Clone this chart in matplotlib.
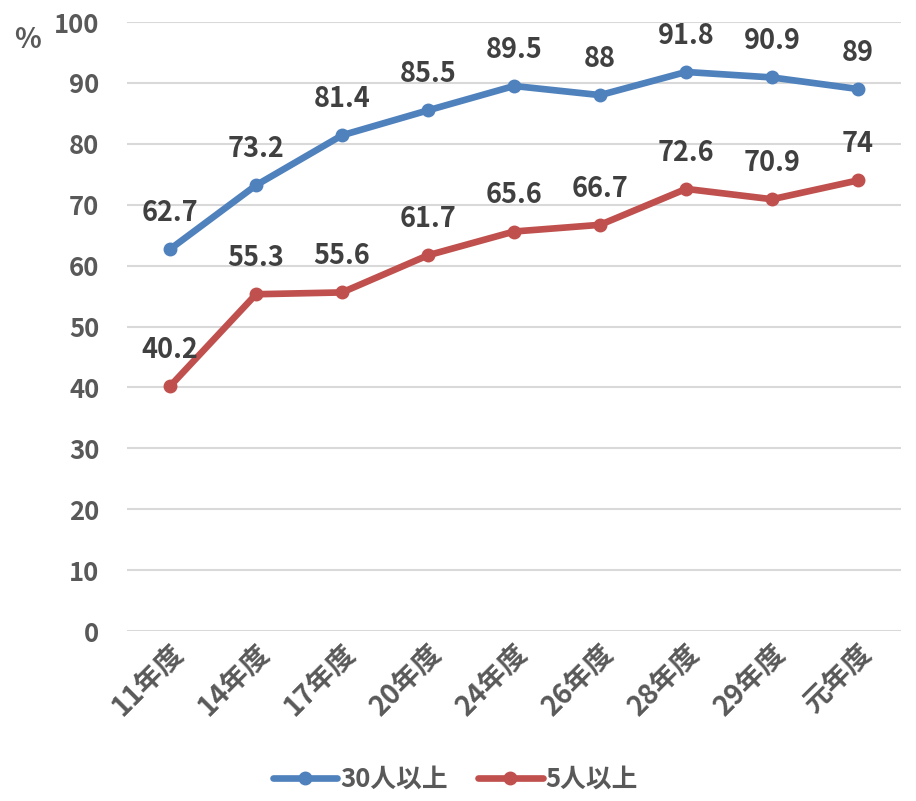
import matplotlib.pyplot as plt

plt.rcParams['font.family'] = ['Noto Sans CJK JP', 'DejaVu Sans']
plt.rcParams['font.weight'] = 'bold'

years = ['11年度', '14年度', '17年度', '20年度', '24年度', '26年度', '28年度', '29年度', '元年度']
over_30 = [62.7, 73.2, 81.4, 85.5, 89.5, 88, 91.8, 90.9, 89]
over_5 = [40.2, 55.3, 55.6, 61.7, 65.6, 66.7, 72.6, 70.9, 74]
series_names = ['30人以上', '5人以上']

blue = '#4F81BD'
red = '#C0504D'
tick_color = '#595959'
label_color = '#404040'

fig = plt.figure(figsize=(9.16, 8.01), dpi=100)
ax = fig.add_axes([0.1387, 0.2122, 0.845, 0.7603])

x = list(range(len(years)))
for vals, color, name in [(over_30, blue, series_names[0]), (over_5, red, series_names[1])]:
    ax.plot(x, vals, color=color, lw=4.8, marker='o', ms=9, label=name,
            solid_capstyle='round', zorder=3)
    for xi, v in zip(x, vals):
        ax.annotate(f'{v:g}', (xi, v), xytext=(0, 26), textcoords='offset points',
                    ha='center', va='center', fontsize=19.5, fontweight='bold',
                    color=label_color)

ax.set_xlim(-0.5, len(years) - 0.5)
ax.set_ylim(0, 100)
ax.set_yticks(range(0, 101, 10))
ax.grid(axis='y', color='#D9D9D9', lw=1.5)
ax.set_axisbelow(True)
for s in ax.spines.values():
    s.set_visible(False)
ax.tick_params(axis='both', length=0, labelsize=18.5, labelcolor=tick_color)
ax.tick_params(axis='y', pad=20)
ax.set_xticks(x)
ax.set_xticklabels(years, rotation=45, ha='right', rotation_mode='anchor', fontsize=20)
ax.tick_params(axis='x', pad=6)

fig.text(0.03, 0.95, '%', fontsize=20, color=tick_color, ha='center', va='center')

fig.legend(loc='center', bbox_to_anchor=(0.497, 0.027), ncol=2, frameon=False,
           fontsize=18.5, labelcolor=tick_color, handlelength=2.5,
           handletextpad=0.1, columnspacing=1.2)

fig.savefig('out.png', dpi=100)
